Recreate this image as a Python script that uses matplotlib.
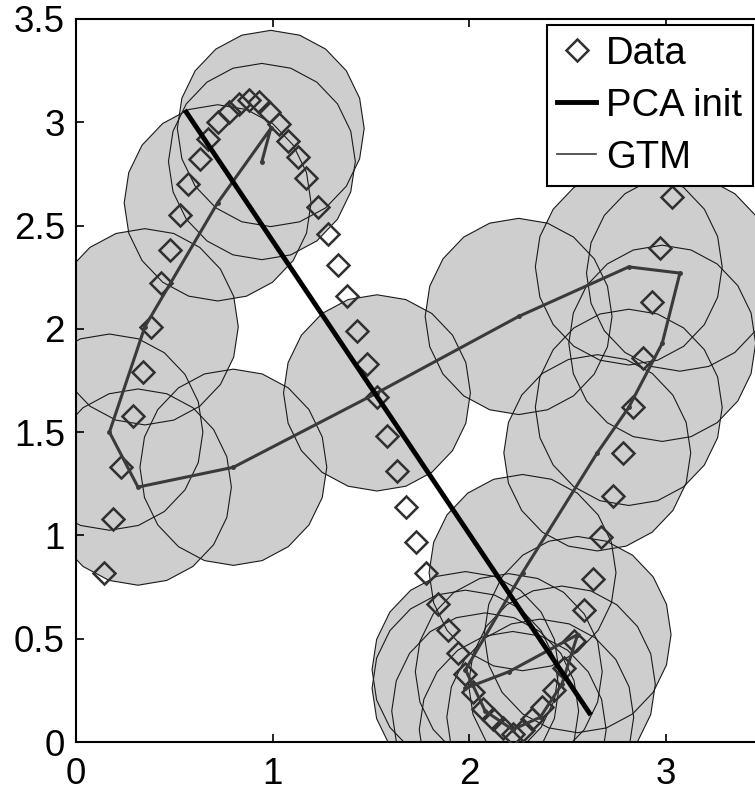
import numpy as np
import matplotlib
matplotlib.use('Agg')
import matplotlib.pyplot as plt
from matplotlib.patches import CirclePolygon

plt.rcParams['font.family'] = ['Liberation Sans', 'DejaVu Sans']

# data points along the N-shaped curve
data_x = [0.14, 0.19, 0.23, 0.29, 0.34, 0.38, 0.43, 0.48, 0.53, 0.57,
          0.63, 0.67, 0.72, 0.78, 0.83, 0.88, 0.93, 0.98, 1.03, 1.08,
          1.13, 1.17, 1.23, 1.28, 1.33, 1.38, 1.43, 1.48, 1.53, 1.58,
          1.63, 1.68, 1.73, 1.78, 1.84, 1.89, 1.94, 1.98, 2.02, 2.07,
          2.12, 2.17, 2.22, 2.27, 2.32, 2.37, 2.43, 2.48, 2.53, 2.58,
          2.63, 2.67, 2.73, 2.78, 2.83, 2.88, 2.93, 2.97, 3.03]
data_y = [0.82, 1.08, 1.33, 1.58, 1.79, 2.01, 2.22, 2.38, 2.55, 2.70,
          2.82, 2.92, 3.00, 3.05, 3.09, 3.11, 3.10, 3.05, 2.99, 2.91,
          2.83, 2.73, 2.59, 2.46, 2.31, 2.16, 1.99, 1.83, 1.67, 1.48,
          1.31, 1.14, 0.97, 0.82, 0.67, 0.54, 0.43, 0.33, 0.24, 0.16,
          0.11, 0.07, 0.04, 0.06, 0.11, 0.17, 0.25, 0.36, 0.49, 0.64,
          0.79, 0.99, 1.19, 1.40, 1.62, 1.86, 2.13, 2.39, 2.64]

# principal axis used for initialisation
pca_x = [0.56, 2.61]
pca_y = [3.05, 0.14]

# trained GTM centres (latent grid order)
gtm_x = [0.945, 0.99, 0.72, 0.35, 0.17, 0.315, 0.80, 1.53, 2.25,
         2.81, 3.07, 2.98, 2.81, 2.65, 2.27, 1.98, 2.08, 2.22, 2.36,
         2.47, 2.55, 2.20, 1.98]
gtm_y = [2.81, 2.97, 2.61, 2.01, 1.50, 1.234, 1.33, 1.69, 2.06,
         2.30, 2.27, 1.93, 1.62, 1.40, 0.82, 0.35, 0.15, 0.06, 0.12,
         0.28, 0.52, 0.34, 0.26]
noise_radius = 0.475

fig = plt.figure(figsize=(7.55, 7.91), dpi=100)
ax = fig.add_axes([76 / 755, 49 / 791, 688.5 / 755, 723 / 791])

# noise circles: fills first, outlines on top so every edge shows
for cx, cy in zip(gtm_x, gtm_y):
    ax.add_patch(CirclePolygon((cx, cy), noise_radius, resolution=20,
                               facecolor='#cecece', edgecolor='none', zorder=1))
for cx, cy in zip(gtm_x, gtm_y):
    ax.add_patch(CirclePolygon((cx, cy), noise_radius, resolution=20,
                               facecolor='none', edgecolor='#1a1a1a',
                               linewidth=0.8, zorder=2))

ax.plot(data_x, data_y, 'D', markersize=11, markerfacecolor='none',
        markeredgecolor='#303030', markeredgewidth=1.8, label='Data', zorder=3)
ax.plot(pca_x, pca_y, '-', color='black', linewidth=3.5, label='PCA init', zorder=5)
ax.plot(gtm_x, gtm_y, '-', color='#3a3a3a', linewidth=2.2, zorder=4)
ax.plot(gtm_x, gtm_y, '.', color='#3a3a3a', markersize=5, zorder=4)
ax.plot([], [], '-', color='#3a3a3a', linewidth=1.2, label='GTM')

ax.set_xlim(0, 3.5)
ax.set_ylim(0, 3.5)
ax.set_xticks([0, 1, 2, 3])
ax.set_xticklabels(['0', '1', '2', '3'])
ax.set_yticks([0, 0.5, 1, 1.5, 2, 2.5, 3, 3.5])
ax.set_yticklabels(['0', '0.5', '1', '1.5', '2', '2.5', '3', '3.5'])
ax.tick_params(direction='in', length=6, width=1.2, labelsize=26.5,
               top=True, right=True)
ax.tick_params(axis='x', pad=11)
ax.tick_params(axis='y', pad=8)
for s in ax.spines.values():
    s.set_linewidth(1.5)

leg = ax.legend(loc='upper right', bbox_to_anchor=(753 / 755, 1 - 25 / 791),
                bbox_transform=fig.transFigure, borderaxespad=0,
                fontsize=27.5, handlelength=1.0, handletextpad=0.28,
                borderpad=0.28, labelspacing=0.42, fancybox=False,
                framealpha=1, edgecolor='black')
leg.get_frame().set_linewidth(1.5)

fig.savefig('out.png', dpi=100)
